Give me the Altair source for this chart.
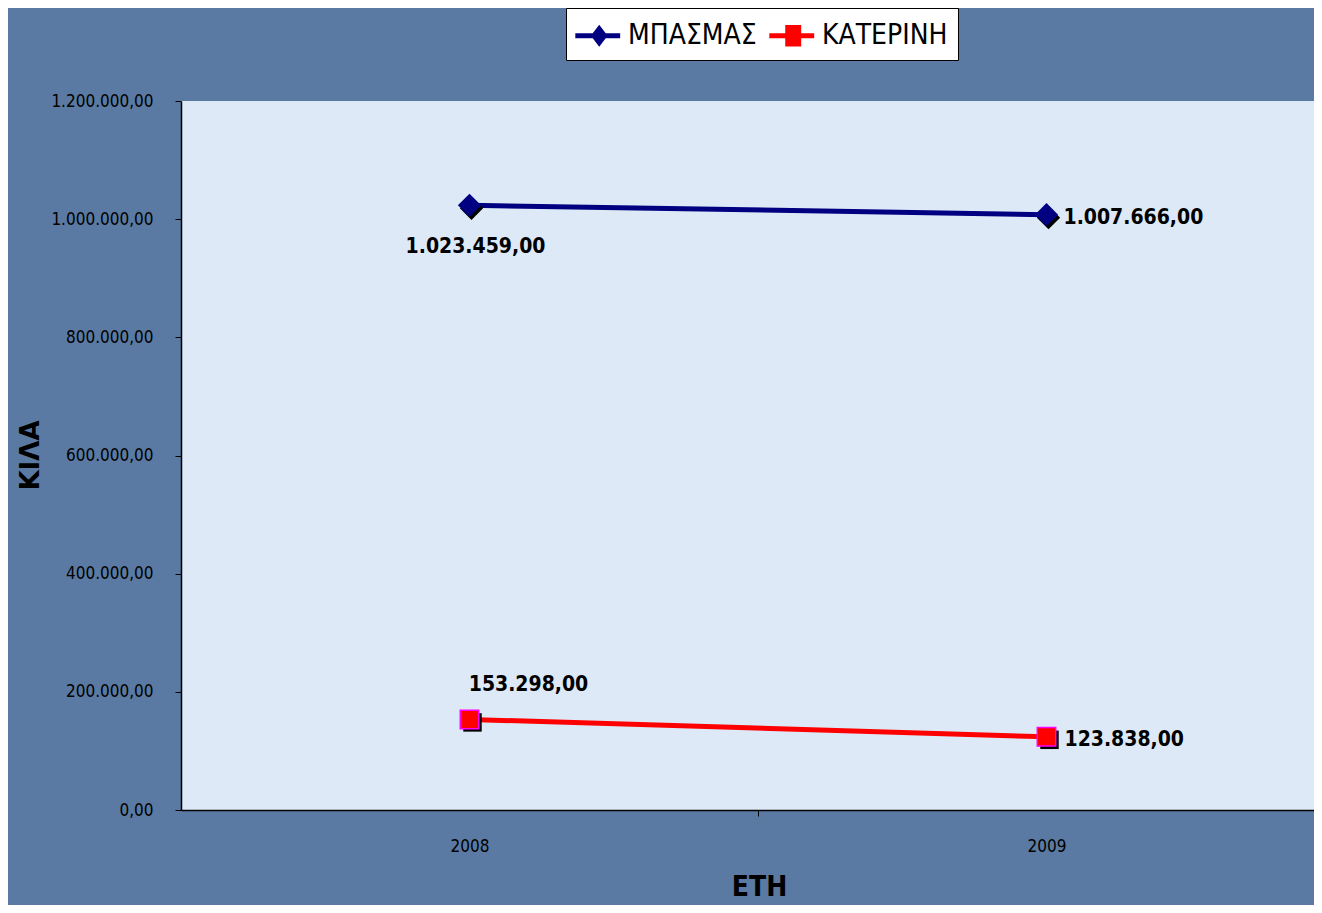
import altair as alt
import pandas as pd

years = [2008, 2009]
series_names = ["ΜΠΑΣΜΑΣ", "ΚΑΤΕΡΙΝΗ"]
mpasmas = [1023459.00, 1007666.00]
katerini = [153298.00, 123838.00]
y_ticks = [0, 200000, 400000, 600000, 800000, 1000000, 1200000]

rows = []
for yr, v in zip(years, mpasmas):
    rows.append({"year": yr, "series": series_names[0], "value": v})
for yr, v in zip(years, katerini):
    rows.append({"year": yr, "series": series_names[1], "value": v})
df = pd.DataFrame(rows)

NARROW = "DejaVu Sans Condensed, sans-serif"
PLOT_W = 1133
PLOT_H = 709
BAND = 577

x_enc = alt.X(
    "year:Q",
    scale=alt.Scale(domain=[2007.5, 2007.5 + PLOT_W / BAND], nice=False, zero=False),
    axis=alt.Axis(
        values=[2008, 2008.5, 2009],
        labelExpr="datum.value == 2008.5 ? '' : toString(datum.value)",
        tickOpacity={"condition": {"test": "datum.value == 2008.5", "value": 1}, "value": 0},
        title="ΕΤΗ",
        titleX=578,
        titleY=77,
        titleBaseline="middle",
        titleAlign="center",
        titleFont=NARROW,
        titleFontSize=28,
        titleFontWeight="bold",
        titleColor="#000000",
        labelFont=NARROW,
        labelFontSize=17,
        labelPadding=22,
        labelColor="#000000",
        tickSize=6,
        tickColor="#000000",
        domainColor="#000000",
        domainWidth=1.5,
        grid=False,
    ),
)
y_enc = alt.Y(
    "value:Q",
    scale=alt.Scale(domain=[0, 1200000], nice=False),
    axis=alt.Axis(
        values=y_ticks,
        format=",.2f",
        title="ΚΙΛΑ",
        titleX=-151,
        titleY=354,
        titleAngle=270,
        titleBaseline="middle",
        titleAlign="center",
        titleFont="DejaVu Sans, sans-serif",
        titleFontSize=26,
        titleFontWeight="bold",
        titleColor="#000000",
        labelFont=NARROW,
        labelFontSize=17,
        labelPadding=22,
        labelColor="#000000",
        tickSize=6,
        tickColor="#000000",
        domainColor="#000000",
        domainWidth=1.5,
        grid=False,
    ),
)

base = alt.Chart(df).encode(x=x_enc, y=y_enc)

lines = base.mark_line(strokeWidth=5).encode(
    stroke=alt.Stroke(
        "series:N",
        scale=alt.Scale(domain=series_names, range=["#000080", "#ff0000"]),
        legend=None,
    ),
    detail="series:N",
)

s1 = base.transform_filter(alt.datum.series == series_names[0])
s2 = base.transform_filter(alt.datum.series == series_names[1])

sh1 = s1.mark_point(shape="diamond", filled=True, size=540, color="#000000", opacity=1,
                    xOffset=2, yOffset=3)
pt1 = s1.mark_point(shape="diamond", filled=True, size=540, color="#000080", opacity=1)
sh2 = s2.mark_point(shape="square", filled=True, size=340, color="#000000", opacity=1,
                    xOffset=3, yOffset=3)
pt2 = s2.mark_point(shape="square", filled=True, size=340, fill="#ff0000", stroke="#ff00ff",
                    strokeWidth=1.5, opacity=1)

legend_paths = [
    "M-1.05,-0.15 L-0.045,-0.15 L0.33,-0.64 L0.705,-0.15 L1.54,-0.15 L1.54,0.15 "
    "L0.705,0.15 L0.33,0.64 L-0.045,0.15 L-1.05,0.15 Z",
    "M-1.05,-0.15 L-0.13,-0.15 L-0.13,-0.62 L0.79,-0.62 L0.79,-0.15 L1.54,-0.15 "
    "L1.54,0.15 L0.79,0.15 L0.79,0.62 L-0.13,0.62 L-0.13,0.15 L-1.05,0.15 Z",
]
legend_layer = base.mark_point(filled=True, size=0, opacity=1).encode(
    color=alt.Color("series:N", scale=alt.Scale(domain=series_names, range=["#000080", "#ff0000"]),
                    legend=alt.Legend(
                        title=None, orient="none", legendX=385, legendY=-93,
                        direction="horizontal", columns=2,
                        fillColor="#ffffff", strokeColor="#000000", padding=10,
                        labelFont=NARROW, labelFontSize=28, labelColor="#000000",
                        labelOffset=17, columnPadding=12,
                        symbolSize=1200, symbolOpacity=1, symbolStrokeWidth=0,
                        labelLimit=400,
                    )),
    shape=alt.Shape("series:N", scale=alt.Scale(domain=series_names, range=legend_paths)),
)

txt_kw = dict(font=NARROW, fontSize=21, fontWeight="bold", color="#000000")
text_enc = alt.Text("value:Q", format=",.2f")
t1 = base.transform_filter((alt.datum.series == series_names[0]) & (alt.datum.year == years[0])) \
    .mark_text(align="center", baseline="middle", dx=6, dy=42, **txt_kw).encode(text=text_enc)
t2 = base.transform_filter((alt.datum.series == series_names[0]) & (alt.datum.year == years[1])) \
    .mark_text(align="left", baseline="middle", dx=17, dy=3, **txt_kw).encode(text=text_enc)
t3 = base.transform_filter((alt.datum.series == series_names[1]) & (alt.datum.year == years[0])) \
    .mark_text(align="center", baseline="middle", dx=59, dy=-34, **txt_kw).encode(text=text_enc)
t4 = base.transform_filter((alt.datum.series == series_names[1]) & (alt.datum.year == years[1])) \
    .mark_text(align="left", baseline="middle", dx=18, dy=3, **txt_kw).encode(text=text_enc)

chart = alt.layer(legend_layer, lines, sh1, pt1, sh2, pt2, t1, t2, t3, t4).properties(
    width=PLOT_W,
    height=PLOT_H,
    autosize=alt.AutoSizeParams(type="none"),
    padding={"left": 173, "top": 93, "right": 0, "bottom": 95},
    background="#5a7aa3",
).configure(
    locale={"number": {"decimal": ",", "thousands": ".", "grouping": [3], "currency": ["", " €"]}},
    view=alt.ViewConfig(fill="#dde9f6", stroke="transparent", strokeWidth=0),
)

chart.save("out.html", embed_options={"renderer": "svg", "actions": False})
